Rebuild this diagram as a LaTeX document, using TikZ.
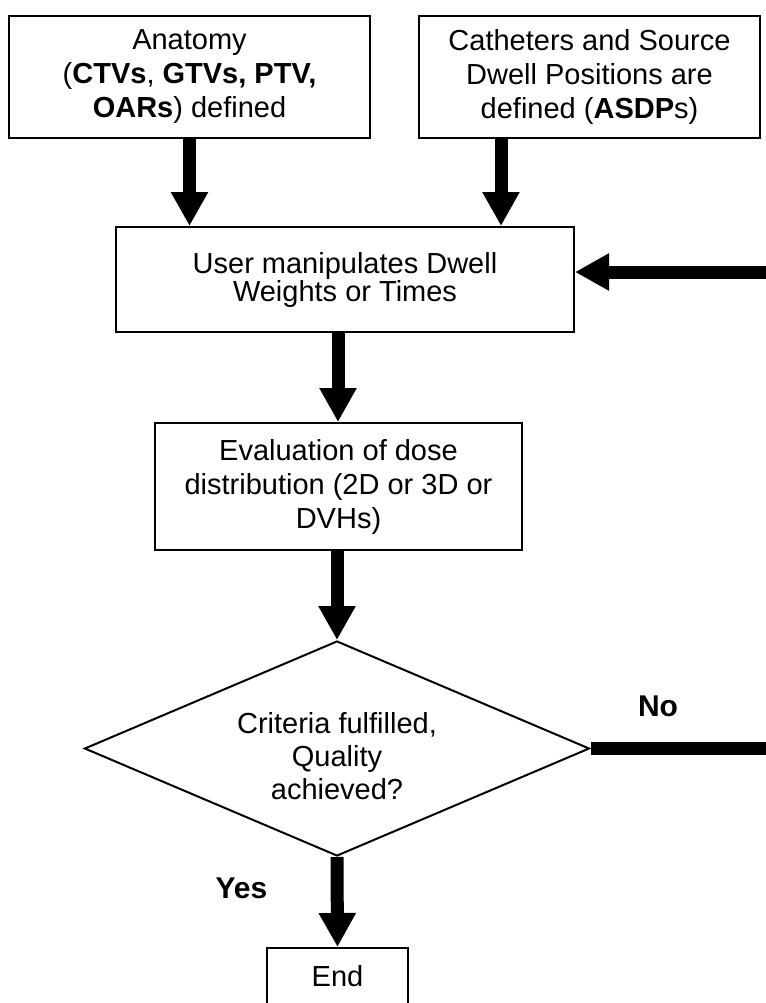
\documentclass[tikz,border=0pt]{standalone}
\usepackage{fontspec}
\setmainfont{Liberation Sans}
\usetikzlibrary{arrows.meta,shapes.geometric}

\begin{document}
\begin{tikzpicture}[x=.5pt,y=-.5pt,
        box/.style={draw,line width=1pt,align=center,inner sep=0pt,font=\fontsize{14.5}{17}\selectfont},
        flow/.style={line width=6.5pt,-{Triangle[width=17.5pt,length=17pt]}},
        lbl/.style={font=\fontsize{15}{18}\selectfont\bfseries}]
    \useasboundingbox (0,0) rectangle (766,1003);
    % boxes
    \node[box,minimum width=180.5pt,minimum height=61pt] (anat) at (189.5,77)
        {Anatomy\\(\textbf{CTVs}, \textbf{GTVs, PTV,}\\\textbf{OARs}) defined};
    \node[box,minimum width=170.5pt,minimum height=61pt] (cath) at (589.5,77)
        {Catheters and Source\\Dwell Positions are\\defined (\textbf{ASDP}s)};
    \node[box,minimum width=229pt,minimum height=52.5pt,font=\fontsize{14.5}{14}\selectfont] (user) at (345,279.5)
        {User manipulates Dwell\\Weights or Times};
    \node[box,minimum width=183.5pt,minimum height=63.5pt] (eval) at (338.5,486.5)
        {Evaluation of dose\\distribution (2D or 3D or\\DVHs)};
    \node[box,diamond,aspect=2.35,minimum width=252.5pt,minimum height=107.5pt] (crit) at (337,748.5) {};
    \node[align=center,font=\fontsize{14.5}{16.5}\selectfont] (crittxt) at (337,756)
        {Criteria fulfilled,\\Quality\\achieved?};
    \node[box,minimum width=70.5pt,minimum height=28.5pt] (end) at (337.5,976.5) {End};
    % labels
    \node[lbl] (no) at (658,706) {No};
    \node[lbl] (yes) at (241.5,888) {Yes};
    % arrows
    \coordinate (bx) at (501,0);
    \coordinate (ux) at (338,0);
    \coordinate (fb) at (790,272);
    \draw[flow] (anat.south) -- (anat.south |- user.north);
    \draw[flow] (cath.south -| bx) -- (user.north -| bx);
    \draw[flow] (user.south -| ux) -- (eval.north -| ux);
    \draw[flow] (eval.south -| crit.north) -- (crit.north);
    \draw[flow] (crit.south) -- (end.north);
    \draw[flow] (crit.east) -- (crit.east -| fb) -- (fb) -- (fb -| user.east);
\end{tikzpicture}
\end{document}
